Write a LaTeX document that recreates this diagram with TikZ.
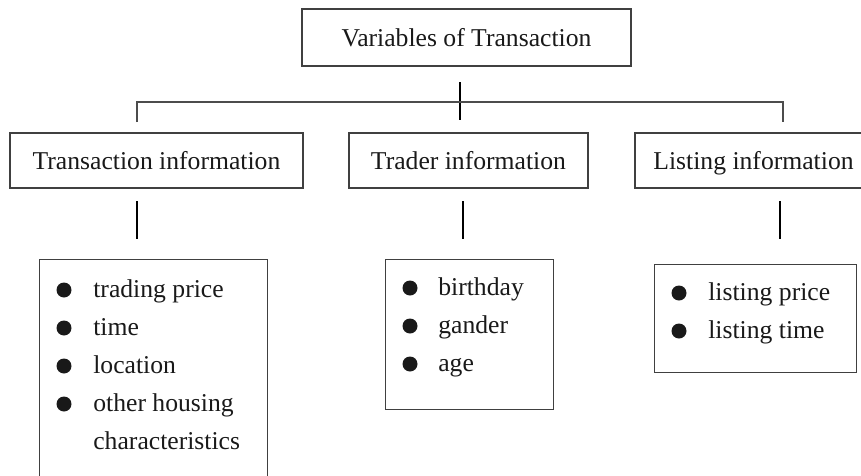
\documentclass[tikz,border=0pt]{standalone}
\usepackage{fontspec}
\setmainfont{Liberation Serif}

% One bulleted list: #1 name, #2 bullet x, #3 text x, #4 top offset, #5 items
\newcommand\bulletlist[5]{
    \foreach \t [count=\i] in {#5} {
        \node[dot] (#1-dot\i) at (#2,{#4-0.76*\i+0.14}) {};
        \node[item] (#1-item\i) at (#3,{#4-0.76*\i}) {\t};
    }
}

\begin{document}
\begin{tikzpicture}[
    font=\fontsize{14.6}{21.6}\selectfont,
    text=black!90,
    box/.style={draw=black!75, line width=0.6pt, minimum height=1.1cm, inner sep=0pt,
        text height=13pt, text depth=2.6pt},
    listbox/.style={draw=black!75, line width=0.6pt, inner sep=0pt, anchor=north west},
    item/.style={anchor=base west, inner sep=0pt},
    dot/.style={circle, fill=black!90, minimum size=0.3cm, inner sep=0pt},
    stub/.style={line width=1.1pt},
    bar/.style={draw=black!70, line width=0.6pt}
  ]
  \useasboundingbox (0,0) rectangle (17.22,-9.52);

  % Root
  \node[box, minimum width=6.58cm, minimum height=1.14cm] (root) at (9.33,-0.75) {Variables of Transaction};

  % Second level
  \node[box, minimum width=5.86cm] (tx) at (3.13,-3.21) {Transaction information};
  \node[box, minimum width=4.78cm] (trader) at (9.37,-3.21) {Trader information};
  \node[box, minimum width=4.74cm] (listing) at (15.07,-3.21) {Listing information};

  % Branching lines
  \coordinate (trunk-top) at (9.2,-1.64);
  \coordinate (trunk-bot) at (9.2,-2.4);
  \coordinate (bar-l) at (2.74,-2.04);
  \coordinate (bar-r) at (15.66,-2.04);
  \coordinate (drop-l) at (2.74,-2.44);
  \coordinate (drop-r) at (15.66,-2.44);
  \draw[stub] (trunk-top) -- (trunk-bot);
  \draw[bar] (drop-l) -- (bar-l) -- (bar-r) -- (drop-r);

  % Short lines under the second level
  \foreach \name/\x in {tx/2.74, trader/9.26, listing/15.6} {
      \coordinate (\name-s1) at (\x,-4.02);
      \coordinate (\name-s2) at (\x,-4.78);
      \draw[stub] (\name-s1) -- (\name-s2);
  }

  % Lists
  \node[listbox, minimum width=4.56cm, minimum height=4.8cm] (tx-list) at (0.78,-5.18) {};
  \node[listbox, minimum width=3.36cm, minimum height=3.0cm] (trader-list) at (7.7,-5.18) {};
  \node[listbox, minimum width=4.04cm, minimum height=2.16cm] (listing-list) at (13.08,-5.28) {};

  \bulletlist{tx}{1.28}{1.86}{-5.18}{trading price, time, location, other housing}
  \node[item] (tx-item5) at (1.86,-8.98) {characteristics};
  \bulletlist{trader}{8.2}{8.76}{-5.14}{birthday, gander, age}
  \bulletlist{listing}{13.58}{14.16}{-5.24}{listing price, listing time}
\end{tikzpicture}
\end{document}
